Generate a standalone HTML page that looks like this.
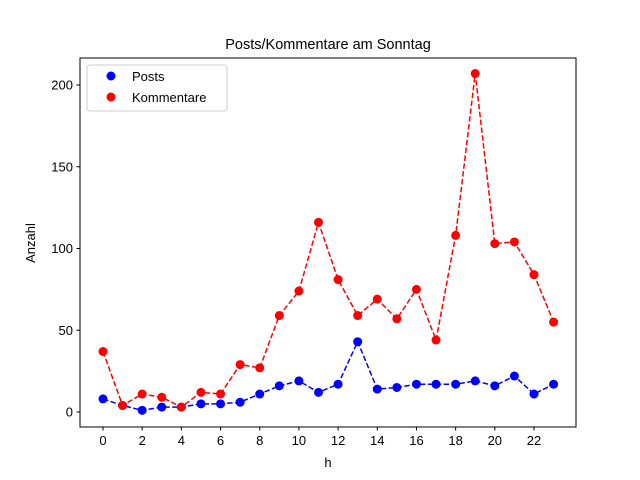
<!DOCTYPE html>
<html><head><meta charset="utf-8"><style>
body{margin:0;background:#fff;}
svg{display:block;font-family:"Liberation Sans","DejaVu Sans",sans-serif;}
</style></head><body>
<svg id="chart" width="640" height="480" viewBox="0 0 640 480">
<rect x="0" y="0" width="640" height="480" fill="#fff"/>
<text x="328" y="49" text-anchor="middle" font-size="14.5">Posts/Kommentare am Sonntag</text>
<text x="328" y="467" text-anchor="middle" font-size="13">h</text>
<text x="35" y="243" text-anchor="middle" font-size="13" transform="rotate(-90 35 243)">Anzahl</text>
<g id="plot"></g>
<rect x="80" y="58" width="496" height="369" fill="none" stroke="#000" stroke-width="1"/>
<g>
<rect x="87" y="65" width="140" height="46" rx="3" fill="#fff" stroke="#ccc"/>
<circle cx="111" cy="76" r="4.5" fill="#0000ff"/>
<text x="132" y="81" font-size="13">Posts</text>
<circle cx="111" cy="97" r="4.5" fill="#ff0000"/>
<text x="132" y="102" font-size="13">Kommentare</text>
</g>
</svg>
<script>
const hours = [0,1,2,3,4,5,6,7,8,9,10,11,12,13,14,15,16,17,18,19,20,21,22,23];
const posts = [8,4,1,3,3,5,5,6,11,16,19,12,17,43,14,15,17,17,17,19,16,22,11,17];
const kommentare = [37,4,11,9,3,12,11,29,27,59,74,116,81,59,69,57,75,44,108,207,103,104,84,55];
const xTicks = [0,2,4,6,8,10,12,14,16,18,20,22];
const yTicks = [0,50,100,150,200];

const NS = "http://www.w3.org/2000/svg";
const g = document.getElementById("plot");
function xs(v){return 103 + v*(431/22);}
function ys(v){return 412 - v*(327/200);}
function mk(tag, attrs){const e=document.createElementNS(NS,tag);for(const k in attrs)e.setAttribute(k,attrs[k]);g.appendChild(e);return e;}

xTicks.forEach(t=>{
  const l=mk("line",{x1:xs(t),x2:xs(t),y1:427,y2:430.5,stroke:"#000"});
  
  
  const tx=mk("text",{x:xs(t),y:445,"text-anchor":"middle","font-size":"13"});
  tx.textContent=t;
  
  
});
yTicks.forEach(t=>{
  const l=mk("line",{x1:76.5,x2:80,y1:ys(t),y2:ys(t),stroke:"#000"});
  
  
  const tx=mk("text",{x:73,y:ys(t)+4.5,"text-anchor":"end","font-size":"13"});
  tx.textContent=t;
  
  
});

function series(vals,color,name){
  const pts=hours.map((h,i)=>xs(h)+","+ys(vals[i])).join(" ");
  const pl=mk("polyline",{points:pts,fill:"none",stroke:color,"stroke-width":"1.5","stroke-dasharray":"5.5,2.4"});
  
  
  hours.forEach((h,i)=>{
    const c=mk("circle",{cx:xs(h),cy:ys(vals[i]),r:4.5,fill:color});
    
    
  });
}
series(posts,"#0000ff","posts");
series(kommentare,"#ff0000","kommentare");
</script>
</body></html>
